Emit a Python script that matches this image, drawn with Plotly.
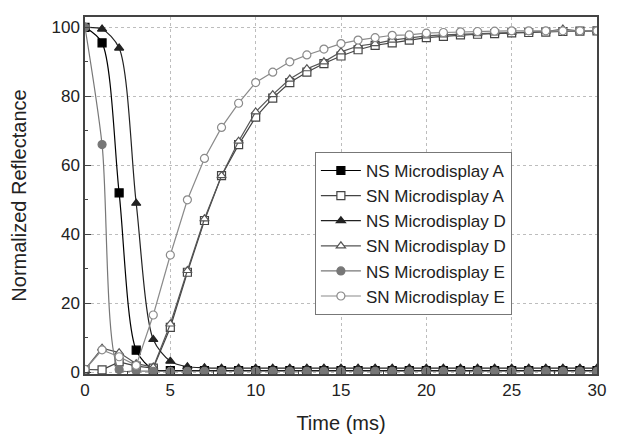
import plotly.graph_objects as go

t = list(range(0, 31))

ns_a = [100, 95.5, 52, 6.4, 0.8, 0.5, 0.5, 0.5, 0.5, 0.5, 0.5, 0.5, 0.5, 0.5, 0.5, 0.5,
        0.5, 0.5, 0.5, 0.5, 0.5, 0.5, 0.5, 0.5, 0.5, 0.5, 0.5, 0.5, 0.5, 0.5, 0.5]
sn_a = [0.8, 0.7, 3, 1.8, 1.2, 13, 29, 44, 57, 66, 74, 79.5, 84, 87, 89.5, 91.7, 93.5, 94.8,
        95.5, 96.3, 97, 97.4, 97.8, 98, 98.2, 98.4, 98.5, 98.6, 98.8, 98.9, 99]
ns_d = [100, 99.5, 94, 49, 9.5, 3.2, 1.6, 1.3, 1.2, 1.2, 1.2, 1.2, 1.2, 1.2, 1.2, 1.2,
        1.2, 1.2, 1.2, 1.2, 1.2, 1.2, 1.2, 1.2, 1.2, 1.2, 1.2, 1.2, 1.2, 1.2, 1.2]
sn_d = [0.8, 7, 5.7, 2.5, 1.5, 14, 29.5, 44.5, 57, 67, 75.5, 80.5, 85, 88, 90, 92.9, 94.6,
        95.3, 96.3, 97, 97.5, 97.8, 98, 98.2, 98.4, 98.5, 98.6, 98.8, 99.5, 98.9, 99]
ns_e = [100, 66, 0.8, 0.4, 0.3, 0.3, 0.3, 0.3, 0.3, 0.3, 0.3, 0.3, 0.3, 0.3, 0.3, 0.3,
        0.3, 0.3, 0.3, 0.3, 0.3, 0.3, 0.3, 0.3, 0.3, 0.3, 0.3, 0.3, 0.3, 0.3, 0.3]
sn_e = [0.8, 6.5, 4.5, 2, 16.6, 34, 50, 62, 71, 78, 84, 87, 90, 92, 93.7, 95.3, 96.3, 97,
        97.7, 97.8, 98.3, 98.5, 98.7, 98.8, 98.9, 99, 99, 99, 99, 99, 99]

x_ticks = [0, 5, 10, 15, 20, 25, 30]
y_ticks = [0, 20, 40, 60, 80, 100]

names = ["NS Microdisplay A", "SN Microdisplay A", "NS Microdisplay D",
         "SN Microdisplay D", "NS Microdisplay E", "SN Microdisplay E"]

series = [
    (ns_a, "square", "#000000", False, "spline"),
    (sn_a, "square", "#444444", True, "linear"),
    (ns_d, "triangle-up", "#222222", False, "spline"),
    (sn_d, "triangle-up", "#555555", True, "linear"),
    (ns_e, "circle", "#777777", False, "spline"),
    (sn_e, "circle", "#8a8a8a", True, "linear"),
]

FONT = "Liberation Sans, Arial, sans-serif"

fig = go.Figure()
for (vals, sym, col, hollow, shape), name in zip(series, names):
    fig.add_trace(go.Scatter(
        x=t, y=vals, name=name, mode="lines+markers",
        line=dict(color=col, width=1.2, shape=shape, smoothing=0.8),
        marker=dict(symbol=sym, size=8, color="white" if hollow else col,
                    line=dict(color=col, width=1.2)),
    ))

axis_common = dict(
    showline=True, mirror=True, linecolor="#444444", linewidth=1.5,
    ticks="inside", ticklen=6, tickcolor="#444444", tickwidth=1.2,
    showgrid=True, gridcolor="#bdbdbd", griddash="dot", gridwidth=1,
    zeroline=False, automargin=False,
    tickfont=dict(family=FONT, size=17, color="#222"),
    title_font=dict(family=FONT, size=20, color="#222"),
)

fig.update_xaxes(range=[0, 30], tickvals=x_ticks, title_text="Time (ms)", title_standoff=17,
                 minor=dict(ticks="inside", ticklen=3, dtick=2.5, tickcolor="#444444", showgrid=False),
                 **axis_common)
fig.update_yaxes(range=[-0.5, 103], tickvals=y_ticks, title_text="Normalized Reflectance", title_standoff=19,
                 minor=dict(ticks="inside", ticklen=3, tickvals=[10, 30, 50, 70, 90],
                            tickcolor="#444444", showgrid=False),
                 **axis_common)

fig.update_layout(
    width=617, height=444,
    margin=dict(l=85, r=20, t=17, b=70),
    plot_bgcolor="white", paper_bgcolor="white",
    font=dict(family=FONT, color="#222"),
    legend=dict(x=0.449, y=0.622, xanchor="left", yanchor="top",
                bordercolor="#777777", borderwidth=1, bgcolor="white",
                font=dict(size=17, color="#222"), tracegroupgap=0, itemwidth=40),
    showlegend=True,
)

fig.write_html("out.html", config={"displayModeBar": False},
               post_script="document.body.style.margin='0';document.body.style.overflow='hidden';")
